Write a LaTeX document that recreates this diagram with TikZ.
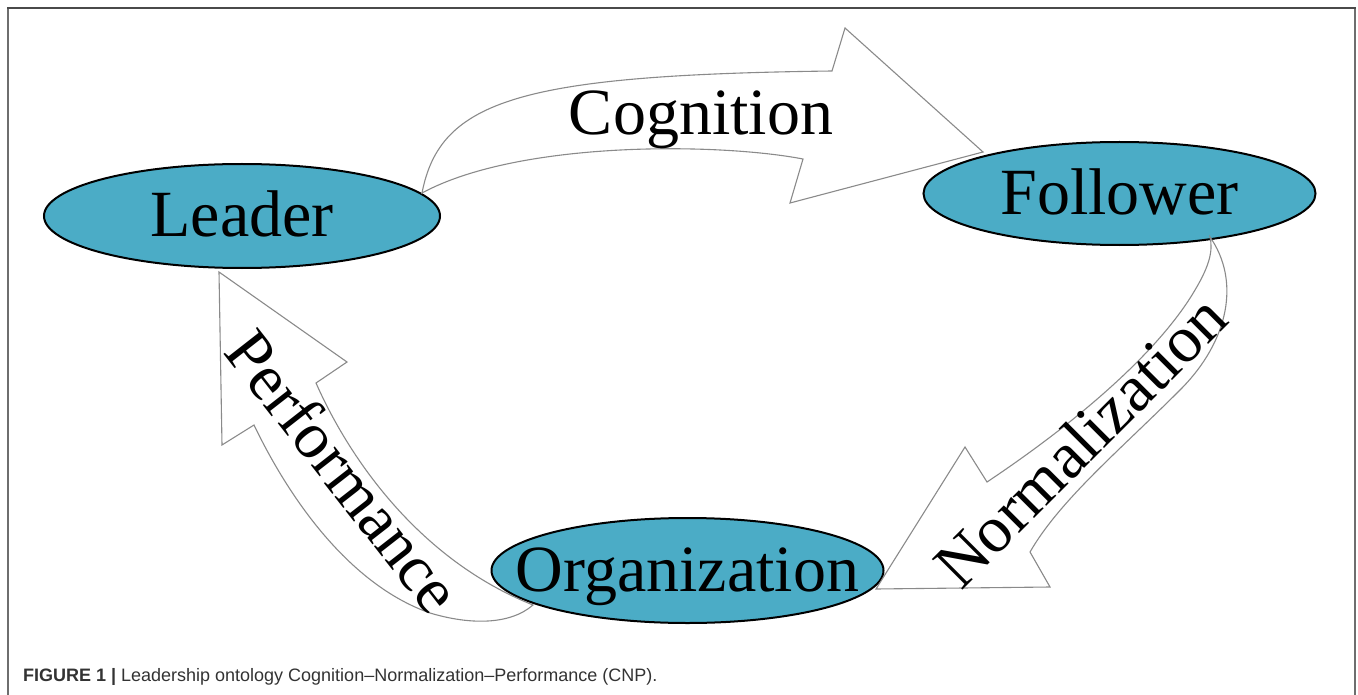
\documentclass[tikz,border=0pt]{standalone}
\usepackage{fontspec}
\setmainfont{Liberation Serif}
\newfontfamily\capfont{Liberation Sans}
\usetikzlibrary{shapes.geometric}
\definecolor{nodefill}{HTML}{4BACC6}
\definecolor{outline}{HTML}{8A8A8A}
\definecolor{framegray}{HTML}{6E6E6E}
\definecolor{frametop}{HTML}{4A4A4A}
\definecolor{captext}{HTML}{333333}
\begin{document}
\begin{tikzpicture}[x=0.5pt,y=-0.5pt,
  actor/.style={ellipse, draw=black, line width=1pt, fill=nodefill, inner sep=0pt},
  lbl/.style={font=\fontsize{33}{40}\selectfont, inner sep=0pt, anchor=base},
  flow/.style={draw=outline, line width=0.55pt, line join=miter},
]
\useasboundingbox (0,0) rectangle (1358,695);

% panel frame (open at the bottom)
\draw[framegray, line width=1pt] (7.5,695) -- (7.5,8);
\draw[framegray, line width=1pt] (1355,8) -- (1355,695);
\draw[frametop, line width=1pt] (7,8) -- (1355.5,8);

% the three actors
\node[actor, minimum width=198pt, minimum height=52pt] (leader) at (242,216) {};
\node[actor, minimum width=196pt, minimum height=51.5pt] (follower) at (1119.5,193.5) {};
\node[actor, minimum width=196pt, minimum height=52.5pt] (organization) at (687.5,570.5) {};

\node[lbl] (leadertext) at ([yshift=-10.25pt]leader.center) {Leader};
\node[lbl] (followertext) at ([yshift=-10.25pt]follower.center) {Follower};
\node[lbl] (organizationtext) at ([yshift=-10.5pt]organization.center) {Organization};

% Cognition: Leader -> Follower
\draw[flow] (422,193) .. controls (440,100) and (520,75) .. (832,71)
  -- (845,28) -- (983,152) -- (790,203) -- (803,159)
  .. controls (720,143) and (520,140) .. cycle;

% Normalization: Follower -> Organization
\draw[flow] (1210,237) .. controls (1240,280) and (1230,340) .. (1180,390)
  .. controls (1120,450) and (1060,500) .. (1030,552)
  -- (1050,587) -- (876,589) -- (965,447) -- (987,482)
  .. controls (1080,420) and (1160,350) .. (1195,290)
  .. controls (1210,265) and (1213,250) .. cycle;

% Performance: Organization -> Leader
\draw[flow] (533,605) .. controls (510,625) and (470,625) .. (430,613)
  .. controls (350,585) and (290,500) .. (254,425)
  -- (222,445) -- (219,272) -- (347,362) -- (316,383)
  .. controls (350,460) and (420,560) .. cycle;

\node[lbl] (cognition) at (701,135) {Cognition};
\node[lbl, rotate=45] (normalization) at (1096,457) {Normalization};
\node[lbl, rotate=-52] (performance) at (326,485) {Performance};

% caption
\node[anchor=base west, inner sep=0pt, text=captext,
  font=\capfont\fontsize{9}{11}\selectfont] (caption) at (22.7,681.7)
  {\textbf{FIGURE 1 |} Leadership ontology Cognition–Normalization–Performance (CNP).};
\end{tikzpicture}
\end{document}
